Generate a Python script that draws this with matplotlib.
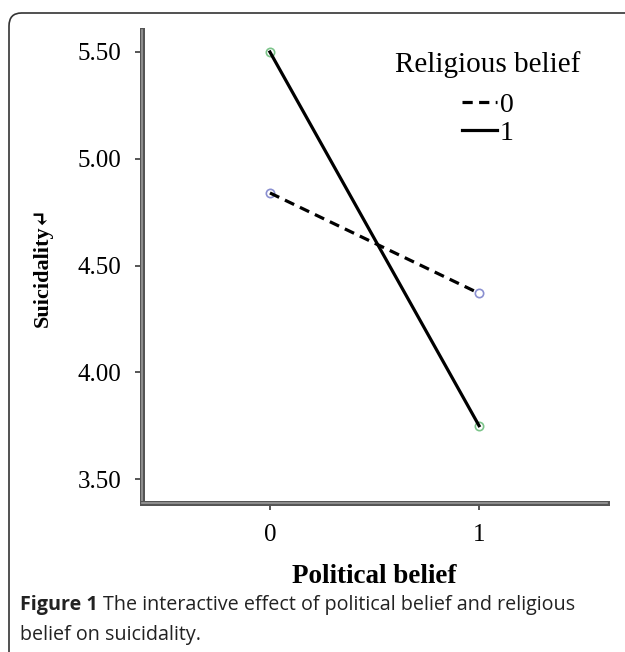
import matplotlib.pyplot as plt
import matplotlib.patheffects as pe
from matplotlib.patches import FancyBboxPatch

# data
political = [0, 1]
relig_0 = [4.84, 4.37]   # dashed
relig_1 = [5.50, 3.75]   # solid
yticks = [3.50, 4.00, 4.50, 5.00, 5.50]
xticks = [0, 1]

serif = ['Liberation Serif', 'DejaVu Serif']

fig = plt.figure(figsize=(6.25, 6.52), dpi=100)
ax = fig.add_axes([142/625, 1 - 503/652, 465/625, 473/652])

# markers first, lines on top
ax.plot(political, relig_0, 'o', ms=6, mfc='none', mec='#8a8fd0', mew=1.2, zorder=2)
ax.plot(political, relig_1, 'o', ms=6, mfc='none', mec='#7cc48a', mew=1.2, zorder=2)
ax.plot(political, relig_0, color='black', lw=2.3, dashes=(3.2, 2.0), label='0', zorder=3)
ax.plot(political, relig_1, color='black', lw=2.3, label='1', zorder=3)

ax.set_xlim(-0.612, 1.612)
ax.set_ylim(3.388, 5.603)
ax.set_xticks(xticks)
ax.set_xticklabels(['0', '1'], family=serif, fontsize=18)
ax.set_yticks(yticks)
ax.set_yticklabels(['%.2f' % v for v in yticks], family=serif, fontsize=18)

for s in ['top', 'right']:
    ax.spines[s].set_visible(False)
for s in ['left', 'bottom']:
    ax.spines[s].set_color('#9a9a9a')
    ax.spines[s].set_linewidth(1.2)
    ax.spines[s].set_path_effects([pe.Stroke(linewidth=3.6, foreground='#555555'), pe.Normal()])
    ax.spines[s].set_capstyle('projecting')

ax.tick_params(direction='out', length=5, width=1.4, color='#555555')
ax.tick_params(axis='y', pad=10)
ax.tick_params(axis='x', pad=10)

ax.set_ylabel('Suicidality\u21b5', family=serif, fontsize=16, fontweight='bold', labelpad=18)
ax.set_xlabel('Political belief', family=serif, fontsize=19.5, fontweight='bold', labelpad=13)

leg = ax.legend(title='Religious belief', loc='upper center', frameon=False,
                bbox_to_anchor=(488/625, 1 - 32/652), bbox_transform=fig.transFigure,
                prop={'family': serif, 'size': 20}, title_fontproperties={'family': serif, 'size': 21},
                handlelength=1.25, handletextpad=0.1, labelspacing=0.1, borderpad=0.2)
leg._legend_box.sep = 10

# caption
cap = dict(family='Open Sans', fontsize=14.2, color='#222222', va='center')
t1 = fig.text(20/625, 1 - 605/652, 'Figure 1', fontweight='bold', **cap)
r = fig.canvas.get_renderer()
bb = t1.get_window_extent(r)
fig.text((bb.x1 + 5) / 625, 1 - 605/652,
         'The interactive effect of political belief and religious', **cap)
fig.text(20/625, 1 - 635/652, 'belief on suicidality.', **cap)

# rounded frame around the figure, cut at the right and bottom edges
box = FancyBboxPatch((9/625, -0.05), 1.1, 1 - 13/652 + 0.05,
                     boxstyle='round,pad=0,rounding_size=0.02', transform=fig.transFigure,
                     fill=False, edgecolor='#333333', lw=1.2, zorder=0)
fig.patches.append(box)

fig.savefig('out.png', dpi=100)
